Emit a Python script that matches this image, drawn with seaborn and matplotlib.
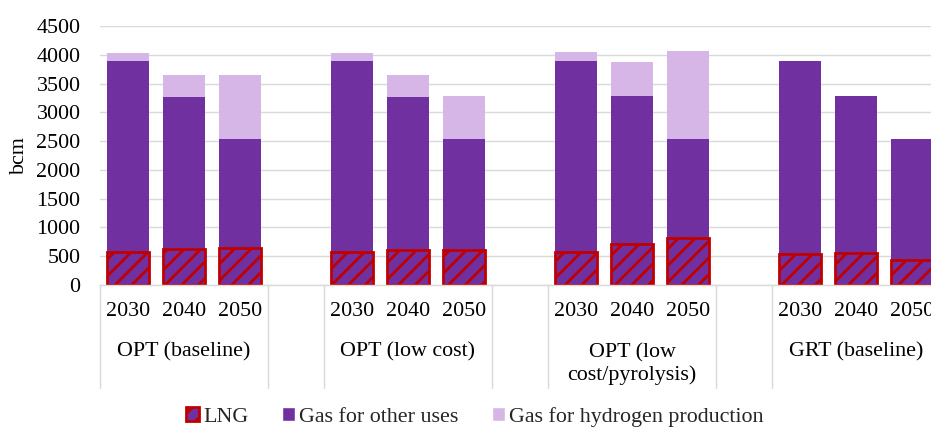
import numpy as np
import pandas as pd
import matplotlib
matplotlib.use("Agg")
import matplotlib.pyplot as plt
import matplotlib.transforms as mtransforms
from matplotlib.patches import Patch
import seaborn as sns

# Data (bcm)
groups = ["OPT (baseline)", "OPT (low cost)", "OPT (low\ncost/pyrolysis)", "GRT (baseline)"]
years = ["2030", "2040", "2050"]
other_uses = [3895, 3275, 2530, 3895, 3275, 2535, 3900, 3290, 2530, 3900, 3280, 2530]
hydrogen = [140, 380, 1110, 140, 365, 750, 140, 580, 1540, 0, 0, 0]
lng = [570, 620, 650, 576, 616, 610, 575, 715, 815, 545, 555, 435]

DARK = "#7030A0"
LIGHT = "#D5B6E6"
RED = "#C00000"
GRID = "#D9D9D9"
FS = 15.8

sns.set_theme(style="white")
plt.rcParams["font.family"] = ["Liberation Serif", "DejaVu Serif"]
plt.rcParams["hatch.color"] = RED
plt.rcParams["hatch.linewidth"] = 2.0

# slot positions: 3 bars per group, one empty slot between groups
pos = [4 * g + i + 0.5 for g in range(len(groups)) for i in range(len(years))]
df = pd.DataFrame({
    "pos": pos,
    "other": other_uses,
    "total": np.array(other_uses) + np.array(hydrogen),
    "lng": lng,
})

fig = plt.figure(figsize=(9.31, 4.29), dpi=100)
ax = fig.add_axes([100 / 931, 1 - 285 / 429, 840 / 931, 259 / 429])

kw = dict(native_scale=True, errorbar=None, saturation=1, width=0.75, ax=ax)
sns.barplot(data=df, x="pos", y="total", color=LIGHT, linewidth=0, **kw)
sns.barplot(data=df, x="pos", y="other", color=DARK, linewidth=0, **kw)
sns.barplot(data=df, x="pos", y="lng", facecolor=DARK, edgecolor=RED,
            linewidth=2, hatch="//", **kw)

ax.set_xlim(0, 15)
ax.set_ylim(0, 4500)
ax.set_yticks(np.arange(0, 4501, 500))
ax.yaxis.grid(True, color=GRID, linewidth=1.0)
ax.set_axisbelow(True)
ax.set_xticks([])
ax.set_xlabel("")
ax.set_ylabel("")
for s in ["top", "right", "left"]:
    ax.spines[s].set_visible(False)
ax.spines["bottom"].set_color(GRID)
ax.spines["bottom"].set_linewidth(1.0)
ax.tick_params(axis="y", length=0, pad=14, labelsize=FS, labelcolor="black")

# multi-level category axis
trans = mtransforms.blended_transform_factory(ax.transData, ax.transAxes)
for p, yr in zip(pos, years * len(groups)):
    ax.text(p, -26 / 259, yr, transform=trans, ha="center", va="center",
            fontsize=FS, color="black")
for g, name in enumerate(groups):
    yc = -79 / 259 if "\n" in name else -67 / 259
    ax.text(4 * g + 1.5, yc, name, transform=trans, ha="center", va="center",
            fontsize=FS, color="black", linespacing=1.15)
for x in [0, 3, 4, 7, 8, 11, 12, 15]:
    ax.plot([x, x], [0, -103 / 259], transform=trans, color=GRID,
            linewidth=1.0, clip_on=False)

fig.text(19 / 931, 1 - 155 / 429, "bcm", rotation=90, ha="center", va="center",
         fontsize=FS, color="black")

handles = [
    Patch(facecolor=DARK, edgecolor=RED, hatch="//", linewidth=2, label="LNG"),
    Patch(facecolor=DARK, label="Gas for other uses"),
    Patch(facecolor=LIGHT, label="Gas for hydrogen production"),
]
fig.legend(handles=handles, loc="center", bbox_to_anchor=(475 / 931, 1 - 417 / 429),
           ncol=3, frameon=False, fontsize=FS, handlelength=0.6,
           handleheight=0.6, handletextpad=0.2, columnspacing=1.5)

fig.savefig("out.png", dpi=100)
